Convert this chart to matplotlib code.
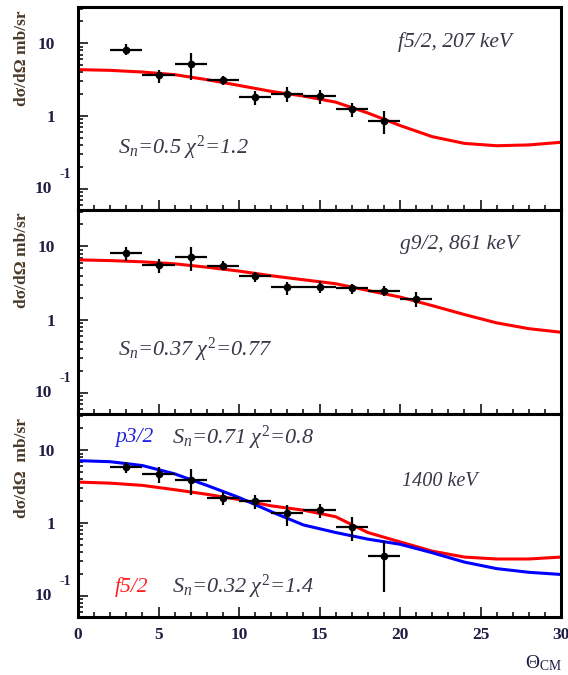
import numpy as np
import matplotlib.pyplot as plt
import matplotlib.transforms as mtransforms
from matplotlib.ticker import LogLocator, NullFormatter, MultipleLocator, FixedLocator

plt.rcParams['font.family'] = 'Liberation Serif'
plt.rcParams['mathtext.fontset'] = 'custom'
plt.rcParams['mathtext.rm'] = 'Liberation Serif'
plt.rcParams['mathtext.it'] = 'Liberation Serif:italic'
plt.rcParams['mathtext.bf'] = 'Liberation Serif:bold'

# measured angular distributions (theta_cm, cross section, upper / lower ends of error bar)
theta_top = [3, 5, 7, 9, 11, 13, 15, 17, 19]
sig_top = [8.2, 3.62, 5.25, 3.09, 1.82, 2.02, 1.86, 1.26, 0.86]
hi_top = [9.8, 4.34, 7.35, 3.5, 2.23, 2.47, 2.3, 1.5, 1.18]
lo_top = [7.0, 2.83, 3.09, 2.63, 1.43, 1.58, 1.45, 0.98, 0.57]

theta_mid = [3, 5, 7, 9, 11, 13, 15, 17, 19, 21]
sig_mid = [8.24, 5.6, 7.26, 5.43, 3.88, 2.75, 2.78, 2.67, 2.48, 1.93]
hi_mid = [9.95, 6.7, 9.7, 6.4, 4.5, 3.3, 3.4, 3.09, 2.9, 2.35]
lo_mid = [6.4, 4.3, 4.6, 4.7, 3.3, 2.19, 2.3, 2.26, 2.07, 1.47]

theta_bot = [3, 5, 7, 9, 11, 13, 15, 17, 19]
sig_bot = [5.83, 4.74, 3.85, 2.21, 2.01, 1.38, 1.50, 0.87, 0.35]
hi_bot = [6.8, 5.96, 5.5, 2.66, 2.46, 1.76, 1.81, 1.2, 0.56]
lo_bot = [4.9, 3.54, 2.4, 1.76, 1.57, 0.91, 1.16, 0.57, 0.113]

theta_calc = [0, 2, 4, 6, 8, 10, 12, 14, 16, 18, 20, 22, 24, 26, 28, 30]
calc_f52_207 = [4.34, 4.24, 4.02, 3.70, 3.16, 2.63, 2.18, 1.88, 1.55, 1.1, 0.74, 0.52, 0.42, 0.39, 0.40, 0.435]
calc_g92_861 = [6.55, 6.4, 6.16, 5.78, 5.2, 4.6, 3.97, 3.5, 3.09, 2.5, 2.03, 1.55, 1.17, 0.90, 0.75, 0.67]
calc_p32_1400 = [7.2, 6.96, 6.16, 4.74, 3.29, 2.24, 1.43, 0.94, 0.74, 0.60, 0.51, 0.39, 0.29, 0.236, 0.21, 0.196]
calc_f52_1400 = [3.65, 3.53, 3.29, 2.87, 2.48, 2.10, 1.72, 1.50, 1.22, 0.74, 0.55, 0.41, 0.34, 0.32, 0.32, 0.34]

tick_col = '#1e1e44'
text_col = '#383848'
ylab_col = '#4b3a2a'

fig = plt.figure(figsize=(5.68, 6.75), dpi=100)
W, H = 568.0, 675.0
x0, x1 = 78, 561
panels = [(7, 210), (210, 414), (414, 617)]
axes = []
for top, bot in panels:
    ax = fig.add_axes([x0 / W, 1 - bot / H, (x1 - x0) / W, (bot - top) / H])
    axes.append(ax)

def style(ax, last):
    ax.set_yscale('log')
    ax.set_xlim(0, 30)
    ax.set_ylim(0.051, 31.5)
    for s in ax.spines.values():
        s.set_linewidth(2.2)
    ax.xaxis.set_major_locator(MultipleLocator(5))
    ax.xaxis.set_minor_locator(MultipleLocator(1))
    ax.yaxis.set_major_locator(FixedLocator([0.1, 1, 10]))
    ax.yaxis.set_minor_locator(LogLocator(subs=np.arange(2, 10)))
    ax.yaxis.set_minor_formatter(NullFormatter())
    ax.tick_params(which='both', direction='in', top=False, right=False, width=1.1, colors='k')
    ax.tick_params(which='major', length=7.2)
    ax.tick_params(which='minor', length=3.6)
    ax.tick_params(axis='y', which='major', pad=16.5, labelsize=12.5, labelcolor=tick_col)
    ax.tick_params(axis='x', which='major', pad=7, labelsize=12.5, labelcolor=tick_col)
    ax.set_yticks([0.1, 1, 10], ['', '1', '10'])
    for lab in ax.get_yticklabels():
        lab.set_fontweight('bold')
    if last:
        for lab in ax.get_xticklabels():
            lab.set_fontweight('bold')
    else:
        ax.tick_params(axis='x', labelbottom=False)
    # 10^-1 label, ROOT style
    tr = mtransforms.offset_copy(ax.get_yaxis_transform(), fig=fig, x=-26, y=0, units='dots')
    ax.text(0, 0.1, '10', transform=tr, ha='right', va='center', fontsize=12.5,
            fontweight='bold', color=tick_col)
    tr2 = mtransforms.offset_copy(ax.get_yaxis_transform(), fig=fig, x=-18, y=14, units='dots')
    ax.text(0, 0.1, '-1', transform=tr2, ha='left', va='center', fontsize=10,
            fontweight='bold', color=tick_col)

def points(ax, th, s, hi, lo):
    s = np.array(s)
    yerr = [s - np.array(lo), np.array(hi) - s]
    ax.errorbar(th, s, xerr=1, yerr=yerr, fmt='o', color='k', ms=4.5,
                elinewidth=1.6, capsize=0, zorder=3)

def note(ax, px, py, top, h, txt, size=15, col=text_col, ha='left'):
    ax.text((px - x0) / (x1 - x0), 1 - (py - top) / h, txt, transform=ax.transAxes,
            ha=ha, va='center', fontsize=size, style='italic', color=col)

for i, ax in enumerate(axes):
    style(ax, i == 2)

ax = axes[0]
ax.plot(theta_calc, calc_f52_207, color='#ff0000', lw=2.2, zorder=2)
points(ax, theta_top, sig_top, hi_top, lo_top)
note(ax, 455, 42, 7, 203, 'f5/2, 207 keV', size=15.5, ha='center')
note(ax, 118, 148, 7, 203, r'$S_n$=0.5 $\chi^{\mathit{2}}$=1.2', size=16)

ax = axes[1]
ax.plot(theta_calc, calc_g92_861, color='#ff0000', lw=2.2, zorder=2)
points(ax, theta_mid, sig_mid, hi_mid, lo_mid)
note(ax, 459, 245, 210, 204, 'g9/2, 861 keV', size=15.5, ha='center')
note(ax, 118, 350, 210, 204, r'$S_n$=0.37 $\chi^{\mathit{2}}$=0.77', size=16)

ax = axes[2]
ax.plot(theta_calc, calc_f52_1400, color='#ff0000', lw=2.2, zorder=2)
ax.plot(theta_calc, calc_p32_1400, color='#0000ff', lw=2.2, zorder=2)
points(ax, theta_bot, sig_bot, hi_bot, lo_bot)
note(ax, 115, 438, 414, 203, 'p3/2', size=15.5, col='#2020e0')
note(ax, 172, 438, 414, 203, r'$S_n$=0.71 $\chi^{\mathit{2}}$=0.8', size=16)
note(ax, 440, 482, 414, 203, '1400 keV', size=14.5, ha='center')
note(ax, 115, 587, 414, 203, 'f5/2', size=15.5, col='#ff2020')
note(ax, 172, 587, 414, 203, r'$S_n$=0.32 $\chi^{\mathit{2}}$=1.4', size=16)

# y titles, aligned to the top of each panel
for top, lab in [(10, 'd\u03c3/d\u03a9 mb/sr'), (213, 'd\u03c3/d\u03a9 mb/sr'), (418, 'd\u03c3/d\u03a9  mb/sr')]:
    fig.text(22 / W, 1 - top / H, lab, rotation=90, ha='center', va='top', fontsize=12.5,
             fontweight='bold', color=ylab_col)

fig.text(543 / W, 1 - 663 / H, r'$\Theta_{\mathrm{CM}}$', ha='center', va='center',
         fontsize=14, color=tick_col)

fig.savefig('out.png', dpi=100)
